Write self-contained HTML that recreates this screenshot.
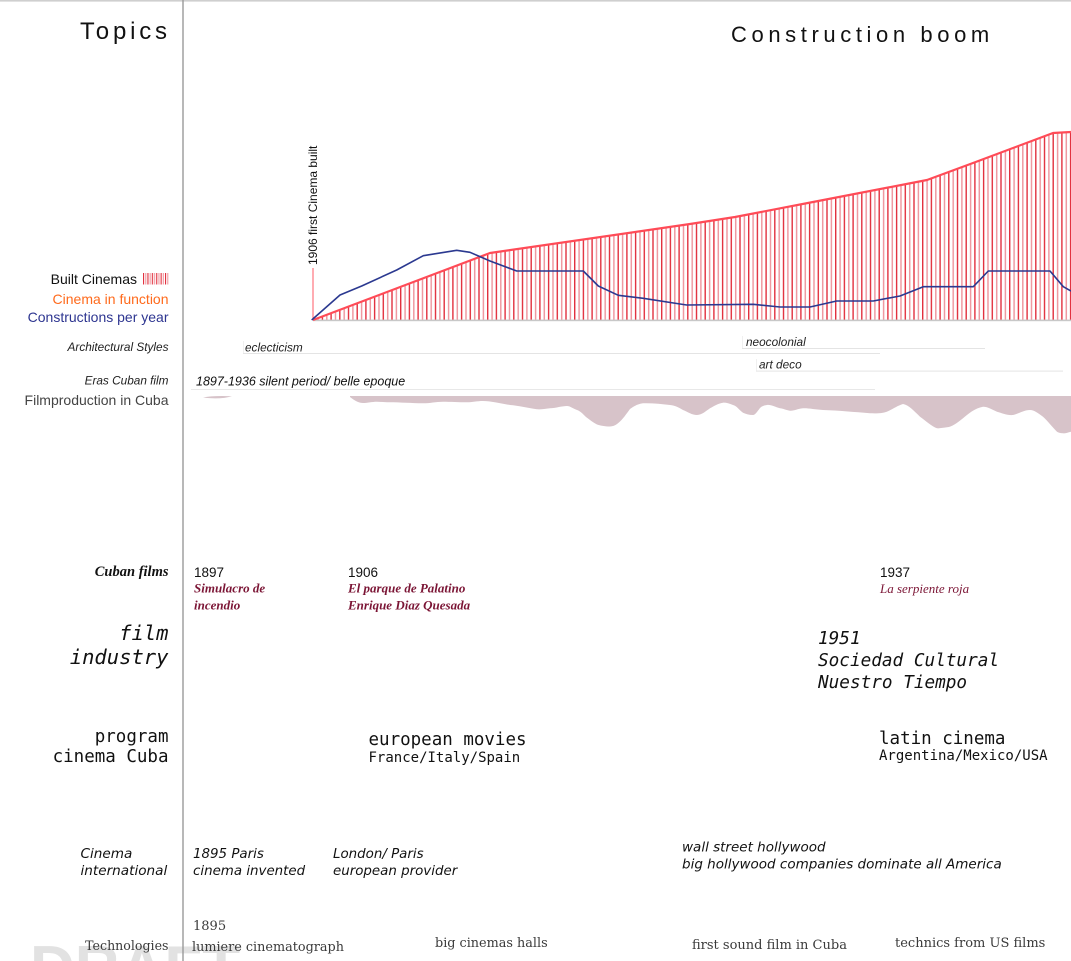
<!DOCTYPE html>
<html>
<head>
<meta charset="utf-8">
<style>
html,body{margin:0;padding:0;background:#fff;}
body{width:1071px;height:961px;overflow:hidden;}
svg{display:block;}
.sans{font-family:"Liberation Sans",Arial,sans-serif;}
.mono{font-family:"DejaVu Sans Mono","Liberation Mono",monospace;}
.isans{font-family:"DejaVu Sans",sans-serif;font-style:italic;}
.serif{font-family:"Liberation Serif",serif;}
.slab{font-family:"DejaVu Serif",serif;}
</style>
</head>
<body>
<svg width="1071" height="961" viewBox="0 0 1071 961" xmlns="http://www.w3.org/2000/svg">
  <defs>
    <pattern id="stripes" patternUnits="userSpaceOnUse" x="313" y="0" width="8.7" height="961">
      <rect x="0" y="0" width="1.4" height="961" fill="#e2303e"/>
      <rect x="4.35" y="0" width="1.5" height="961" fill="#ef99a1"/>
    </pattern>
    <pattern id="stripesLeg" patternUnits="userSpaceOnUse" x="143" y="0" width="4.4" height="961">
      <rect x="0" y="0" width="1.1" height="961" fill="#e2303e"/>
      <rect x="2.2" y="0" width="1.1" height="961" fill="#ef99a1"/>
    </pattern>
  </defs>

  <!-- DRAFT watermark -->
  <text x="30" y="989" class="sans" font-size="62" font-weight="bold" fill="#e2e2e2">DRAFT</text>

  <!-- frame lines -->
  <rect x="0" y="0" width="1071" height="1.6" fill="#cfcfcf"/>
  <rect x="182.3" y="0" width="1.4" height="961" fill="#9a9a9a"/>

  <!-- titles -->
  <text x="80" y="39" class="sans" font-size="24" letter-spacing="3.8" fill="#111">Topics</text>
  <text x="731" y="42" class="sans" font-size="22" letter-spacing="4.6" fill="#111">Construction boom</text>

  <!-- legend -->
  <text x="137" y="284" class="sans" font-size="14" text-anchor="end" fill="#111">Built Cinemas</text>
  <rect x="143" y="273" width="25.5" height="11.5" fill="url(#stripesLeg)"/>
  <text x="168.5" y="304" class="sans" font-size="14" text-anchor="end" fill="#ff6a1c">Cinema in function</text>
  <text x="168.5" y="322" class="sans" font-size="14" text-anchor="end" fill="#2d3590">Constructions per year</text>

  <!-- chart -->
  <path d="M313,320 L490,253 L690,224 L735,217 L813,202 L927,180 L973,163 L1053,133 L1071,132 L1071,320 Z" fill="url(#stripes)"/>
  <rect x="313" y="319.6" width="758" height="1.6" fill="#c8c8c8"/>
  <line x1="313" y1="268" x2="313" y2="320" stroke="#ff5a64" stroke-width="1"/>
  <polyline points="313,320 490,253 690,224 735,217 813,202 927,180 973,163 1053,133 1071,132" fill="none" stroke="#ff4b57" stroke-width="2.2" stroke-linejoin="round"/>
  <polyline points="311.7,320 340,295 361.7,286 396.7,270 423.3,255.7 456.7,250.3 470,252.3 490,261 516.7,271 583.3,271 598.3,286 618.3,295.3 643.3,298.3 680,304 686.7,305 753.3,304.3 780,307 810,307 836.7,301 873.3,301 900,296 923.3,286.7 973.3,286.7 988.3,271 1050,271 1063.3,286.7 1071,291" fill="none" stroke="#2b3990" stroke-width="1.6" stroke-linejoin="round"/>
  <text transform="translate(317,265) rotate(-90)" class="sans" font-size="12" fill="#111">1906 first Cinema built</text>

  <!-- architectural styles / eras -->
  <text x="168.5" y="351" class="sans" font-size="11.8" font-style="italic" text-anchor="end" fill="#222">Architectural Styles</text>
  <text x="168.5" y="384.5" class="sans" font-size="11.8" font-style="italic" text-anchor="end" fill="#222">Eras Cuban film</text>
  <text x="168.5" y="405" class="sans" font-size="14" text-anchor="end" fill="#444">Filmproduction in Cuba</text>

  <text x="245" y="351.5" class="sans" font-size="11.8" font-style="italic" fill="#222">eclecticism</text>
  <rect x="243" y="353" width="637" height="1" fill="#e4e4e4"/>
  <rect x="243" y="341" width="0.8" height="12" fill="#ececec"/>

  <text x="746" y="346" class="sans" font-size="11.8" font-style="italic" fill="#222">neocolonial</text>
  <rect x="742" y="348" width="243" height="1" fill="#e4e4e4"/>
  <rect x="742" y="336" width="0.8" height="12" fill="#ececec"/>

  <text x="759" y="368.5" class="sans" font-size="11.8" font-style="italic" fill="#222">art deco</text>
  <rect x="756" y="370.6" width="307" height="1" fill="#e4e4e4"/>
  <rect x="756" y="359" width="0.8" height="12" fill="#ececec"/>

  <text x="196" y="385.5" class="sans" font-size="12.5" font-style="italic" fill="#111">1897-1936 silent period/ belle epoque</text>
  <rect x="191" y="389" width="684" height="1" fill="#e8e8e8"/>

  <!-- film production blob -->
  <path d="M203,397.6 Q212,395.4 232,396.2 Q221,399.6 203,397.6 Z" fill="#d7c3c9"/>
  <path d="M350,396 L1071,396 L1071,431.7
    C1068,432.5 1065,433.5 1063,433.3 C1060,433 1058,432.5 1057,431.7 C1053,428 1047,420 1043,416.7
    C1038,413 1034,410 1030,410 C1024,410 1018,414 1013,415 C1007,415.5 1002,413 997,411.7
    C991,409 987,406.5 983,406.7 C975,408 968,414 963,418.3 C957,423 952,427 947,427.3
    C943,427.8 940,428.5 937,428.3 C932,426.5 926,421 920,416.7 C914,411 909,405 903,404
    C896,406 889,412 883,412.7 C878,413.5 875,413.3 870,413.3 C855,412 838,410.5 823,410
    C815,409.5 808,408 803,408.3 C797,409 794,411 790,410.7 C785,410 783,408.5 780,408.3
    C775,407 771,404.5 767,405 C764,405.5 762,406 760,408 C757,412 755,415 753,415
    C749,415 746,414 743,412.7 C739,410 737,406 733,405 C729,403.5 726,402.5 723,402.7
    C718,403.5 714,406 710,408.3 C706,411 702,415 697,415 C692,415 688,412 683,410
    C679,407.5 675,405.5 670,405 C661,404 652,403 643,403.3 C638,404 634,406 630,409
    C627,413 625,416 623,418.3 C619,423 615,426.5 610,426.5 C605,426.5 600,425.5 597,424.5
    C593,422.5 590,420 586,417 C582,413 580,411 577,410 C573,408.5 570,406 567,406
    C562,406 556,408 550,408.3 C545,409 541,409.5 537,409.3 C528,408 518,405.5 510,405
    C501,403.5 491,401 483,401 C477,401 472,402.3 467,402.3 C459,402.3 450,401.7 443,401.7
    C436,401.7 430,403.3 423,403.3 C412,403.3 400,402.3 390,402.3 C384,402.3 381,401.7 377,401.7
    C372,401.7 367,403 363,403 C359,403 355,401 350,397 Z" fill="#d7c3c9"/>

  <!-- Cuban films -->
  <text x="168.5" y="576" class="serif" font-size="14.5" font-style="italic" font-weight="bold" text-anchor="end" fill="#111">Cuban films</text>
  <text x="194" y="577" class="sans" font-size="13.5" fill="#111">1897</text>
  <text x="194" y="592.5" class="serif" font-size="13" font-style="italic" font-weight="bold" fill="#7b1535">Simulacro de</text>
  <text x="194" y="609.5" class="serif" font-size="13" font-style="italic" font-weight="bold" fill="#7b1535">incendio</text>
  <text x="348" y="577" class="sans" font-size="13.5" fill="#111">1906</text>
  <text x="348" y="592.5" class="serif" font-size="13" font-style="italic" font-weight="bold" fill="#7b1535">El parque de Palatino</text>
  <text x="348" y="609.5" class="serif" font-size="13" font-style="italic" font-weight="bold" fill="#7b1535">Enrique Diaz Quesada</text>
  <text x="880" y="577" class="sans" font-size="13.5" fill="#111">1937</text>
  <text x="880" y="593" class="serif" font-size="13" font-style="italic" fill="#7b1535">La serpiente roja</text>

  <!-- film industry -->
  <text x="168.5" y="640" class="mono" font-size="20.5" font-style="italic" text-anchor="end" fill="#111">film</text>
  <text x="168.5" y="664" class="mono" font-size="20.5" font-style="italic" text-anchor="end" fill="#111">industry</text>
  <text x="818" y="644" class="mono" font-size="17.7" font-style="italic" fill="#111">1951</text>
  <text x="818" y="666" class="mono" font-size="17.7" font-style="italic" fill="#111">Sociedad Cultural</text>
  <text x="818" y="688" class="mono" font-size="17.7" font-style="italic" fill="#111">Nuestro Tiempo</text>

  <!-- program cinema Cuba -->
  <text x="168.5" y="742" class="mono" font-size="17.5" text-anchor="end" fill="#111">program</text>
  <text x="168.5" y="762" class="mono" font-size="17.5" text-anchor="end" fill="#111">cinema Cuba</text>
  <text x="368.5" y="745" class="mono" font-size="17.5" fill="#111">european movies</text>
  <text x="368.5" y="762" class="mono" font-size="14" fill="#111">France/Italy/Spain</text>
  <text x="879" y="744" class="mono" font-size="17.5" fill="#111">latin cinema</text>
  <text x="879" y="760" class="mono" font-size="14" fill="#111">Argentina/Mexico/USA</text>

  <!-- Cinema international -->
  <text x="80.5" y="858" class="isans" font-size="13.6" fill="#111">Cinema</text>
  <text x="80.5" y="875" class="isans" font-size="13.6" fill="#111">international</text>
  <text x="193" y="858" class="isans" font-size="13.4" fill="#111">1895 Paris</text>
  <text x="193" y="875" class="isans" font-size="13.4" fill="#111">cinema invented</text>
  <text x="333" y="858" class="isans" font-size="13.4" fill="#111">London/ Paris</text>
  <text x="333" y="875" class="isans" font-size="13.4" fill="#111">european provider</text>
  <text x="682" y="851.5" class="isans" font-size="13.5" fill="#111">wall street hollywood</text>
  <text x="682" y="868.5" class="isans" font-size="13.5" fill="#111">big hollywood companies dominate all America</text>

  <!-- Technologies -->
  <text x="168.5" y="950" class="slab" font-size="12.6" text-anchor="end" fill="#3a3a3a">Technologies</text>
  <text x="193" y="930" class="slab" font-size="13" fill="#3a3a3a">1895</text>
  <text x="192" y="951" class="slab" font-size="12.8" fill="#3a3a3a">lumiere cinematograph</text>
  <text x="435" y="947" class="slab" font-size="12.8" fill="#3a3a3a">big cinemas halls</text>
  <text x="692" y="949" class="slab" font-size="13" fill="#3a3a3a">first sound film in Cuba</text>
  <text x="895" y="947" class="slab" font-size="13" fill="#3a3a3a">technics from US films</text>
</svg>
</body>
</html>
